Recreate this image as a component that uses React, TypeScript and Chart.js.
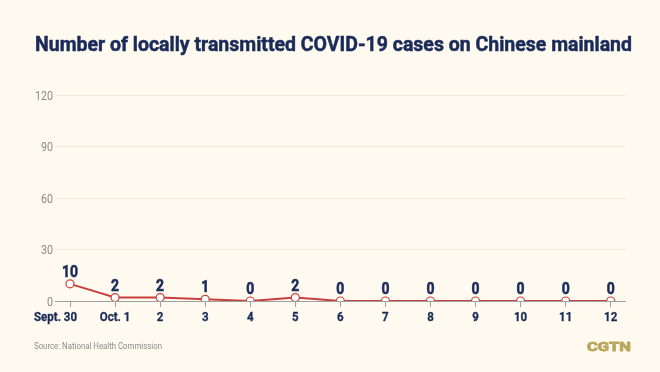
import React, { useEffect, useRef } from "react";
import { Chart, registerables } from "chart.js";

Chart.register(...registerables);

const categories = ["Sept. 30", "Oct. 1", "2", "3", "4", "5", "6", "7", "8", "9", "10", "11", "12"];
const cases = [10, 2, 2, 1, 0, 2, 0, 0, 0, 0, 0, 0, 0];
const yTicks = [0, 30, 60, 90, 120];

const TITLE = "Number of locally transmitted COVID-19 cases on Chinese mainland";
const SOURCE = "Source: National Health Commission";
const BRAND = "CGTN";
const NAVY = "#1b2b59";
const RED = "#c8403d";
const BG = "#fefaef";
const FONT = "Roboto, 'DejaVu Sans', sans-serif";

function drawScaled(ctx: any, text: string, x: number, y: number, align: string, sx: number, stroke = 0) {
  ctx.save();
  ctx.translate(x, y);
  ctx.scale(sx, 1);
  ctx.textAlign = align;
  ctx.fillText(text, 0, 0);
  if (stroke > 0) {
    ctx.strokeStyle = ctx.fillStyle;
    ctx.lineWidth = stroke;
    ctx.lineJoin = "round";
    ctx.strokeText(text, 0, 0);
  }
  ctx.restore();
}

function fitFactor(ctx: any, text: string, width: number) {
  return width / ctx.measureText(text).width;
}

export default function App() {
  const ref = useRef<HTMLCanvasElement | null>(null);
  useEffect(() => {
    if (!ref.current) return;
    const decor = {
      id: "decor",
      beforeDraw(chart: any) {
        const ctx = chart.ctx;
        ctx.save();
        ctx.fillStyle = BG;
        ctx.fillRect(0, 0, chart.width, chart.height);
        ctx.restore();
      },
      afterDraw(chart: any) {
        const ctx = chart.ctx;
        const xs = chart.scales.x;
        const ys = chart.scales.y;
        ctx.save();
        ctx.textBaseline = "alphabetic";
        // title
        ctx.fillStyle = NAVY;
        ctx.font = `bold 21px ${FONT}`;
        drawScaled(ctx, TITLE, 35, 51, "left", fitFactor(ctx, TITLE, 597), 0.5);
        // source
        ctx.fillStyle = "#8c8c8c";
        ctx.font = `9.5px ${FONT}`;
        drawScaled(ctx, SOURCE, 34, 349, "left", fitFactor(ctx, SOURCE, 128));
        // brand
        ctx.fillStyle = "#b9a65e";
        ctx.font = `bold 12.5px ${FONT}`;
        drawScaled(ctx, BRAND, 587, 350.5, "left", fitFactor(ctx, BRAND, 44), 0.8);
        // y tick labels
        ctx.fillStyle = "#8a8a8a";
        ctx.font = `13px ${FONT}`;
        const fy = fitFactor(ctx, "120", 18);
        yTicks.forEach((v) => {
          drawScaled(ctx, String(v), 53, ys.getPixelForValue(v) + 4.5, "right", fy);
        });
        // x tick labels
        ctx.fillStyle = NAVY;
        ctx.font = `bold 13px ${FONT}`;
        const fx = fitFactor(ctx, categories[0], 43);
        categories.forEach((c, i) => {
          const px = xs.getPixelForValue(i);
          if (i === 0) drawScaled(ctx, c, px + 7, 321, "right", fx, 0.3);
          else drawScaled(ctx, c, px, 321, "center", fx, 0.3);
        });
        // data labels
        const meta = chart.getDatasetMeta(0);
        ctx.font = `bold 17px ${FONT}`;
        const fd = fitFactor(ctx, "10", 16);
        meta.data.forEach((pt: any, i: number) => {
          drawScaled(ctx, String(cases[i]), pt.x, pt.y - 7, "center", fd, 0.6);
        });
        ctx.restore();
      },
    };
    const chart = new Chart(ref.current, {
      type: "line",
      data: {
        datasets: [
          {
            data: cases.map((v, i) => ({ x: i, y: v })),
            borderColor: RED,
            borderWidth: 2,
            pointRadius: 4,
            pointBackgroundColor: "#ffffff",
            pointBorderColor: RED,
            pointBorderWidth: 1.2,
            tension: 0,
          },
        ],
      },
      options: {
        animation: false,
        responsive: false,
        layout: { padding: { top: 95, right: 35, bottom: 41, left: 0 } },
        plugins: { legend: { display: false }, tooltip: { enabled: false }, title: { display: false } },
        scales: {
          x: {
            type: "linear",
            min: -0.333,
            max: 12.317,
            afterBuildTicks: (s: any) => {
              s.ticks = categories.map((_, i) => ({ value: i }));
            },
            afterFit: (s: any) => {
              s.height = 30;
            },
            ticks: { display: false },
            grid: { drawOnChartArea: false, drawTicks: true, tickLength: 6, color: "#a0a0a0", lineWidth: 1 },
            border: { display: true, color: "#a0a0a0", width: 1 },
          },
          y: {
            min: 0,
            max: 120,
            afterBuildTicks: (s: any) => {
              s.ticks = yTicks.map((v) => ({ value: v }));
            },
            afterFit: (s: any) => {
              s.width = 55;
            },
            ticks: { display: false },
            grid: {
              drawTicks: false,
              color: (c: any) => (c.tick && c.tick.value === 0 ? "rgba(0,0,0,0)" : "#efe9da"),
              lineWidth: 1,
            },
            border: { display: false },
          },
        },
      },
      plugins: [decor],
    } as any);
    return () => chart.destroy();
  }, []);
  return (
    <div style={{ position: "fixed", left: 0, top: 0, width: 660, height: 372, background: BG }}>
      <canvas ref={ref} width={660} height={372} style={{ width: 660, height: 372, display: "block" }} />
    </div>
  );
}
